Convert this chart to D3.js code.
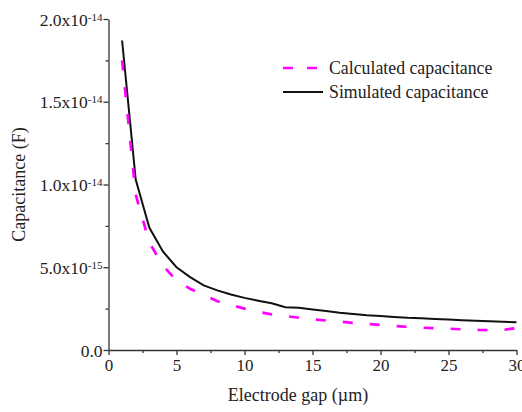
<!DOCTYPE html>
<html>
<head>
<meta charset="utf-8">
<script src="https://cdn.jsdelivr.net/npm/d3@7"></script>
<style>
    body { margin: 0; background: #fff; }
</style>
</head>
<body>
<div id="chart"></div>
<script>
// electrode gap in um
const gaps = [1, 2, 3, 4, 5, 6, 7, 8, 9, 10, 11, 12, 13, 14, 15, 16, 17, 18, 19, 20, 21, 22, 23, 24, 25, 26, 27, 28, 29, 30];
// capacitance values, units of 1e-15 F
const calculated = [17.5, 9.4, 6.5, 5.1, 4.2, 3.7, 3.32, 2.95, 2.72, 2.5, 2.31, 2.15, 2.05, 1.95, 1.85, 1.78, 1.71, 1.64, 1.57, 1.51, 1.45, 1.4, 1.35, 1.32, 1.29, 1.25, 1.21, 1.2, 1.21, 1.33];
const simulated = [18.7, 10.3, 7.4, 5.95, 5.0, 4.4, 3.9, 3.6, 3.35, 3.15, 2.98, 2.82, 2.58, 2.55, 2.45, 2.35, 2.25, 2.18, 2.1, 2.05, 2.0, 1.95, 1.92, 1.88, 1.84, 1.8, 1.77, 1.74, 1.71, 1.68];
const seriesNames = ["Calculated capacitance", "Simulated capacitance"];

const xTicks = [0, 5, 10, 15, 20, 25, 30];
const xMinorTicks = [2.5, 7.5, 12.5, 17.5, 22.5, 27.5];
const yTicks = [0, 5e-15, 1e-14, 1.5e-14, 2e-14];
const yMinorTicks = [2.5e-15, 7.5e-15, 1.25e-14, 1.75e-14];
const yTickMantissa = ["0.0", "5.0x10", "1.0x10", "1.5x10", "2.0x10"];
const yTickExponent = ["", "-15", "-14", "-14", "-14"];

const width = 522, height = 412;
const margin = {left: 108.5, right: 5.5, top: 19, bottom: 62};
const serif = "'Liberation Serif', 'Times New Roman', 'DejaVu Serif', serif";

const svg = d3.select("#chart").append("svg").attr("width", width).attr("height", height)
    .attr("font-family", serif);

const x = d3.scaleLinear().domain([0, 30]).range([margin.left, width - margin.right]);
const y = d3.scaleLinear().domain([0, 2e-14]).range([height - margin.bottom, margin.top]);

// axes
const axisColor = "#333";
let gx = svg.append("g").attr("transform", `translate(0,${height - margin.bottom})`)
    .call(d3.axisBottom(x).tickValues(xTicks).tickSize(5).tickPadding(4).tickSizeOuter(0));
svg.append("g").attr("transform", `translate(0,${height - margin.bottom})`)
    .call(d3.axisBottom(x).tickValues(xMinorTicks).tickSize(3).tickFormat("").tickSizeOuter(0))
    .select(".domain").remove();
gx.attr("font-family", serif);
gx.selectAll("text").style("font-family", serif).style("font-size", "17px").attr("fill", "#222");

let gy = svg.append("g").attr("transform", `translate(${margin.left},0)`)
    .call(d3.axisLeft(y).tickValues(yTicks).tickSize(5).tickPadding(1).tickSizeOuter(0).tickFormat(""));
svg.append("g").attr("transform", `translate(${margin.left},0)`)
    .call(d3.axisLeft(y).tickValues(yMinorTicks).tickSize(3).tickFormat("").tickSizeOuter(0))
    .select(".domain").remove();
gy.attr("font-family", serif);

gy.selectAll(".tick text").each(function(d, i) {
    let t = d3.select(this).attr("x", -6).attr("dy", "0.35em").attr("fill", "#222")
        .style("font-family", serif).style("font-size", "17.5px").attr("text-anchor", "end");
    t.text(null);
    t.append("tspan").text(yTickMantissa[i]);
    if (yTickExponent[i]) {
        t.append("tspan").attr("dy", "-0.45em").style("font-size", "11px").text(yTickExponent[i]);
    }
});

svg.selectAll(".domain, .tick line").attr("stroke", axisColor).attr("stroke-width", 1.3);

// axis titles
svg.append("text").attr("x", 298).attr("y", 401)
    .attr("text-anchor", "middle").attr("fill", "#222").style("font-family", serif).style("font-size", "18px")
    .text("Electrode gap (\u00b5m)");
svg.append("text").attr("transform", `translate(25,${(margin.top + height - margin.bottom) / 2}) rotate(-90)`)
    .attr("text-anchor", "middle").attr("fill", "#222").style("font-family", serif).style("font-size", "18px")
    .text("Capacitance (F)");

// lines
const line = d3.line().x(d => x(d[0])).y(d => y(d[1] * 1e-15));
svg.append("path").datum(gaps.map((g, i) => [g, simulated[i]]))
    .attr("d", line).attr("fill", "none").attr("stroke", "#111").attr("stroke-width", 2);
svg.append("path").datum(gaps.map((g, i) => [g, calculated[i]]))
    .attr("d", line).attr("fill", "none").attr("stroke", "#ff00ff").attr("stroke-width", 2.7)
    .attr("stroke-dasharray", "10,17");

// legend
let legend = svg.append("g");
legend.append("line").attr("x1", 283).attr("x2", 318).attr("y1", 68).attr("y2", 68)
    .attr("stroke", "#ff00ff").attr("stroke-width", 2.7).attr("stroke-dasharray", "10,14");
legend.append("line").attr("x1", 283).attr("x2", 323).attr("y1", 92).attr("y2", 92)
    .attr("stroke", "#111").attr("stroke-width", 2);
legend.selectAll("text.key").data(seriesNames).join("text").attr("class", "key")
    .attr("x", 329).attr("y", (d, i) => 68 + i * 24).attr("dy", "0.35em").attr("fill", "#222")
    .style("font-family", serif).style("font-size", "17.8px").text(d => d);
</script>
</body>
</html>
